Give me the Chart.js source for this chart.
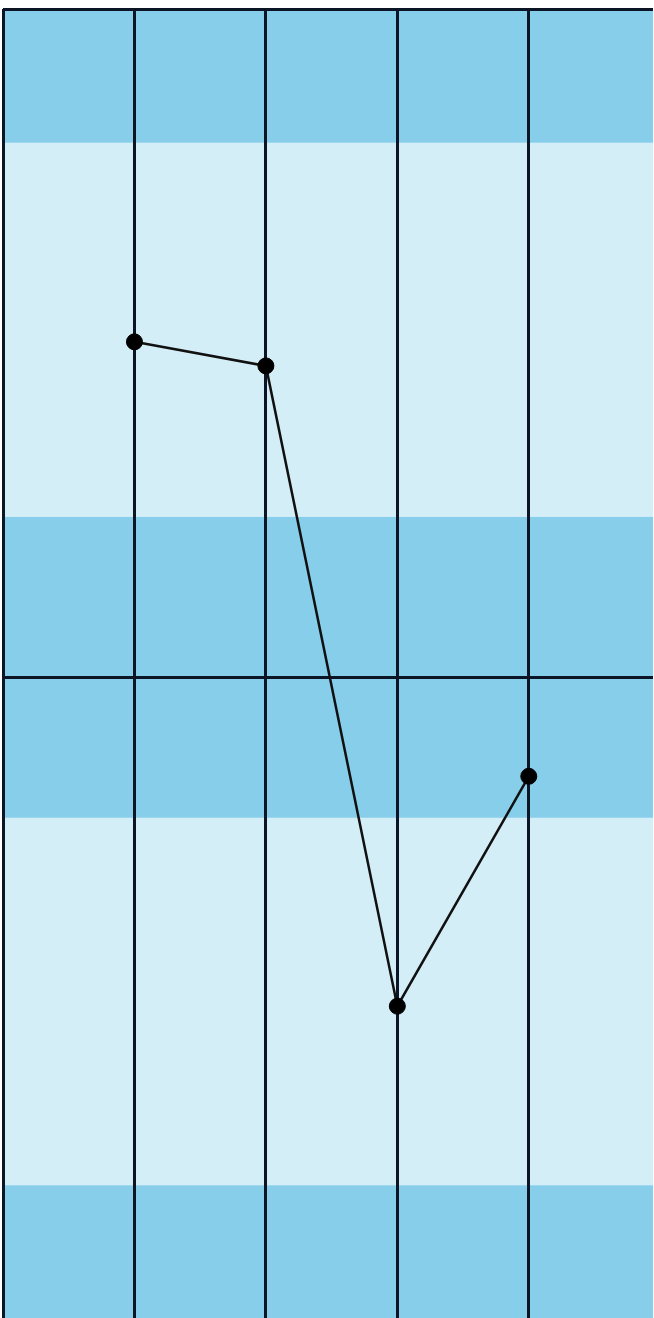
<!DOCTYPE html>
<html>
<head>
<meta charset="utf-8">
<script src="https://cdn.jsdelivr.net/npm/chart.js@4/dist/chart.umd.min.js"></script>
<style>
  html, body { margin: 0; padding: 0; background: #fff; overflow: hidden; }
  #wrap { width: 654px; height: 1318px; overflow: hidden; position: relative; }
  #chart { position: absolute; left: -6px; top: 0; }
</style>
</head>
<body>
<div id="wrap"><canvas id="chart" width="668" height="1328"></canvas></div>
<script>
// data
const xValues = [1, 2, 3, 4];
const yValues = [5.02, 4.66, -4.92, -1.48];
// light bands (upper, lower value); the rest of the plot is the darker blue
const lightBands = [[8.0, 2.4], [-2.1, -7.6]];
const xGridTicks = [0, 1, 2, 3, 4];
const yGridTicks = [0, 10];

const DARK = '#87ceeb';
const LIGHT = '#d3eef7';
const INK = '#0b1526';

// paints the blue bands behind the plot
const bandPlugin = {
  id: 'bands',
  beforeDatasetsDraw(chart) {
    const { ctx, chartArea: a, scales } = chart;
    ctx.save();
    ctx.fillStyle = DARK;
    ctx.fillRect(a.left, a.top, a.right - a.left, a.bottom - a.top);
    ctx.fillStyle = LIGHT;
    lightBands.forEach(([hi, lo]) => {
      const y1 = scales.y.getPixelForValue(hi);
      const y2 = scales.y.getPixelForValue(lo);
      ctx.fillRect(a.left, y1, a.right - a.left, y2 - y1);
    });
    ctx.restore();
    // redraw grid over the bands
    scales.x.drawGrid(a);
    scales.y.drawGrid(a);
  }
};

new Chart(document.getElementById('chart'), {
  type: 'line',
  data: {
    datasets: [{
      data: xValues.map((x, i) => ({ x, y: yValues[i] })),
      borderColor: '#111',
      borderWidth: 2.5,
      tension: 0,
      pointRadius: 8,
      pointBorderWidth: 1,
      pointBackgroundColor: '#000',
      pointBorderColor: '#000',
      clip: false
    }]
  },
  options: {
    responsive: false,
    animation: false,
    layout: { padding: { top: 7, left: 1, right: 0, bottom: 0 } },
    plugins: { legend: { display: false }, tooltip: { enabled: false } },
    scales: {
      x: {
        type: 'linear',
        min: 0,
        max: 4.945,
        afterBuildTicks: (s) => { s.ticks = xGridTicks.map(v => ({ value: v })); },
        ticks: { display: false },
        border: { display: false },
        grid: { color: INK, lineWidth: 3, drawTicks: false }
      },
      y: {
        min: -9.6,
        max: 10,
        afterBuildTicks: (s) => { s.ticks = yGridTicks.map(v => ({ value: v })); },
        ticks: { display: false },
        border: { display: false },
        grid: { color: INK, lineWidth: 3, drawTicks: false }
      }
    }
  },
  plugins: [bandPlugin]
});
</script>
</body>
</html>
